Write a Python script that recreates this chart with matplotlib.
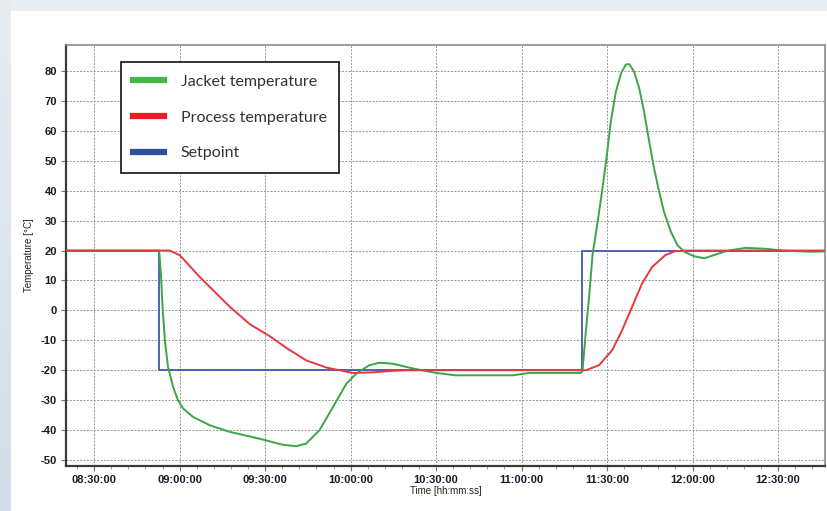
import numpy as np
import pandas as pd
import matplotlib
matplotlib.use("Agg")
import matplotlib.pyplot as plt
import matplotlib.dates as mdates
from matplotlib.patches import Rectangle

plt.rcParams["axes.unicode_minus"] = False
plt.rcParams["font.family"] = "Liberation Sans"

# minutes after 08:00 and temperature in degC
jacket_min = [20.1, 52.8, 53.4, 54.0, 54.8, 55.9, 57.7, 59.4, 61.2, 64.7, 70.6,
              77.6, 88.1, 96.2, 100.9, 104.4, 109.1, 113.8, 118.5, 122.0, 126.6,
              130.1, 134.8, 141.8, 150.0, 157.0, 176.9, 182.7, 200.8, 201.4,
              202.6, 203.7, 204.9, 206.7, 208.4, 209.8, 211.3, 213.1, 214.9,
              216.6, 217.8, 219.5, 221.3, 223.0, 224.8, 226.5, 228.3, 230.0,
              232.4, 234.7, 237.1, 240.6, 244.1, 247.6, 251.1, 254.5, 258.6,
              265.7, 271.4, 280.9, 286.5]
jacket_temp = [20, 20, 12.3, 1.2, -10.0, -18.9, -25.6, -30.0, -32.8, -35.6, -38.4,
               -40.6, -42.9, -44.9, -45.4, -44.5, -40.0, -32.3, -24.5, -21.1, -18.3,
               -17.5, -17.8, -19.4, -20.9, -21.7, -21.7, -20.9, -20.9, -20.0,
               -6.6, 4.5, 18.5, 29.6, 40.8, 50.8, 63.0, 73.1, 79.2,
               82.2, 82.3, 79.8, 74.2, 66.4, 56.4, 47.5, 39.6, 32.9,
               26.3, 21.8, 19.6, 18.1, 17.4, 18.5, 19.6, 20.3, 20.9,
               20.6, 20.0, 19.6, 19.7]

process_min = [20.1, 56.5, 60.0, 67.0, 77.6, 84.6, 91.6, 97.4, 104.4, 111.5, 116.1,
               120.8, 127.8, 134.8, 140.0, 202.6, 207.2, 211.8, 215.3, 218.8,
               222.3, 225.8, 230.5, 234.0, 238.0, 286.5]
process_temp = [20, 20, 18.5, 11.2, 1.2, -4.6, -8.6, -12.5, -16.7, -19.1, -20.0,
                -20.9, -20.7, -20.2, -20.0, -20.0, -18.3, -13.3, -6.6, 1.2,
                9.0, 14.5, 18.5, 19.8, 20.0, 20.0]

setpoint_min = [20.1, 52.8, 201.2, 286.5]
setpoint_temp = [20, -20, 20, 20]

legend_labels = ["Jacket temperature", "Process temperature", "Setpoint"]
y_ticks = [-50, -40, -30, -20, -10, 0, 10, 20, 30, 40, 50, 60, 70, 80]

base = pd.Timestamp("2020-01-01 08:00:00")


def to_time(minutes):
    return base + pd.to_timedelta(np.array(minutes), unit="min")


W, H = 827, 511
fig = plt.figure(figsize=(W / 100, H / 100), dpi=100)
fig.patch.set_facecolor("#e9eef3")

# left blue strip with a soft gradient
strip = fig.add_axes([0, 0, 11 / W, 1])
grad = np.linspace(0, 1, 256).reshape(-1, 1)
strip.imshow(grad, aspect="auto", cmap=matplotlib.colors.LinearSegmentedColormap.from_list(
    "s", ["#e8edf2", "#d2dde9"]), origin="upper")
strip.axis("off")

# white panel
panel = fig.add_axes([11 / W, 0, 1 - 11 / W, 1 - 11 / H])
panel.axis("off")
panel.add_patch(Rectangle((0, 0), 1, 1, transform=panel.transAxes, facecolor="white",
                          edgecolor="none"))

ax = fig.add_axes([66 / W, 1 - 465.7 / H, (825 - 66) / W, (465.7 - 45) / H])
ax.set_facecolor("white")

ax.plot(to_time(setpoint_min), setpoint_temp, drawstyle="steps-post", color="#4655b0",
        lw=1.3, label=legend_labels[2], zorder=3)
ax.plot(to_time(jacket_min), jacket_temp, color="#3aa648", lw=1.4, label=legend_labels[0], zorder=4)
ax.plot(to_time(process_min), process_temp, color="#e43a3e", lw=1.4, label=legend_labels[1], zorder=5)

ax.set_xlim(to_time([20.1])[0], to_time([286.5])[0])
ax.set_ylim(-51.9, 88.7)
ax.set_yticks(y_ticks)

ax.xaxis.set_major_locator(mdates.MinuteLocator(byminute=[0, 30]))
ax.xaxis.set_minor_locator(mdates.MinuteLocator(byminute=range(0, 60, 6)))
ax.xaxis.set_major_formatter(mdates.DateFormatter("%H:%M:%S"))

ax.grid(True, which="major", color="#959595", linestyle=(0, (2, 1.5)), lw=0.7)
ax.tick_params(axis="both", which="major", length=3.5, width=0.8, color="#777777",
               labelsize=8, pad=3, labelcolor="#1a1a2a")
ax.tick_params(axis="x", which="minor", length=2.5, width=0.7, color="#999999")
for lab in ax.get_xticklabels() + ax.get_yticklabels():
    lab.set_fontweight("bold")

for side in ["left", "bottom"]:
    ax.spines[side].set_color("#3a3a3a")
    ax.spines[side].set_linewidth(1.6)
for side in ["top", "right"]:
    ax.spines[side].set_color("#8c8c8c")
    ax.spines[side].set_linewidth(1.2)

ax.set_ylabel("Temperature [°C]", fontsize=7, color="#222222", labelpad=5)
ax.set_xlabel("Time [hh:mm:ss]", fontsize=7, color="#222222", labelpad=1)

handles, labels = ax.get_legend_handles_labels()
order = [labels.index(l) for l in legend_labels]
leg = ax.legend([handles[i] for i in order], [labels[i] for i in order],
                loc="upper left", bbox_to_anchor=(0.072, 0.96), borderaxespad=0,
                prop={"family": "Lato", "size": 11.5},
                handlelength=1.9, handletextpad=1.05, labelspacing=1.35, borderpad=0.8,
                fancybox=False, framealpha=1, edgecolor="#111111")
leg.get_frame().set_linewidth(1.2)
leg_colors = ["#44b549", "#ed1c24", "#2a50a0"]
for h, c in zip(leg.legend_handles, leg_colors):
    h.set_linewidth(4.5)
    h.set_color(c)
for t in leg.get_texts():
    t.set_color("#333333")

fig.savefig("out.png", dpi=100, facecolor=fig.get_facecolor())
